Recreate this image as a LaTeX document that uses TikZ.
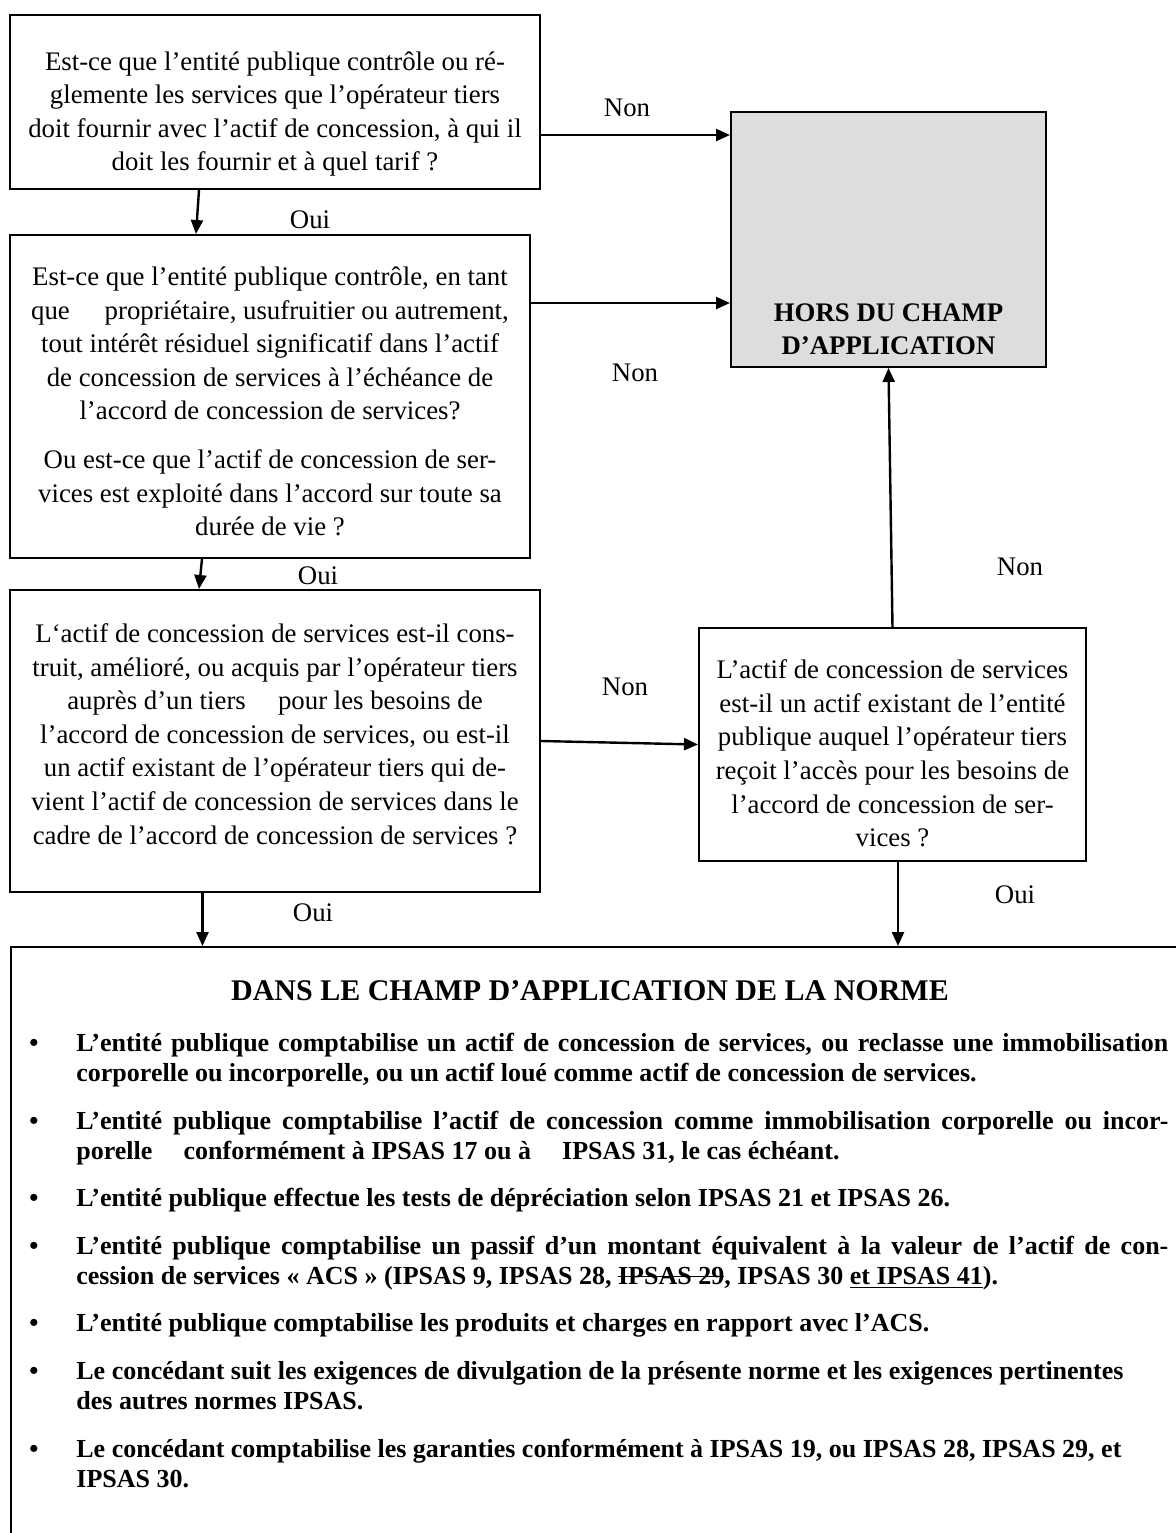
\documentclass[tikz,border=0pt]{standalone}
\usepackage{fontspec}
\setmainfont{Liberation Serif}
\usetikzlibrary{arrows.meta,positioning}
\definecolor{horsgray}{RGB}{221,221,221}
\newcommand\normelabel[1]{#1\hfil}
\newcommand\barre[1]{\setbox0=\hbox{#1}\rlap{\rule[0.28em]{\wd0}{0.7pt}}\box0}
\tikzset{flowpx/.style={x=0.5pt,y=-0.5pt,font=\fontsize{13.4}{16.8}\selectfont}}
\tikzset{qbox/.style={draw,line width=1pt,inner sep=0pt},
         qtext/.style={align=center,inner sep=0pt},
         horsbox/.style={qbox,fill=horsgray},
         flowarrow/.style={line width=1.2pt,-{Triangle[length=7pt,width=6pt]}},
         answer/.style={inner sep=1pt}}

\begin{document}
\begin{tikzpicture}[flowpx]
    \useasboundingbox (0,0) rectangle (1176,1533);
    \clip (0,0) rectangle (1176,1533);
    % question boxes
    \node[qbox,minimum width=265pt,minimum height=87pt] (q1) at (275,102) {};
    \node[qbox,minimum width=260pt,minimum height=161.5pt] (q2) at (270,396.5) {};
    \node[qbox,minimum width=265pt,minimum height=151pt] (q3) at (275,741) {};
    \node[qbox,minimum width=193.5pt,minimum height=116.5pt] (q4) at (892.5,744.5) {};
    % question texts
    \node[qtext] (q1txt) at ([yshift=-6pt]q1.center)
      {Est-ce que l’entité publique contrôle ou ré-\\
       glemente les services que l’opérateur tiers\\
       doit fournir avec l’actif de concession, à qui il\\
       doit les fournir et à quel tarif ?};
    \node[qtext] (q2txt) at ([yshift=-2.5pt]q2.center)
      {Est-ce que l’entité publique contrôle, en tant\\
       que\hspace{1.3em}propriétaire, usufruitier ou autrement,\\
       tout intérêt résiduel significatif dans l’actif\\
       de concession de services à l’échéance de\\
       l’accord de concession de services?\\[7.5pt]
       Ou est-ce que l’actif de concession de ser-\\
       vices est exploité dans l’accord sur toute sa\\
       durée de vie ?};
    \node[qtext] (q3txt) at ([yshift=3.5pt]q3.center)
      {L‘actif de concession de services est-il cons-\\
       truit, amélioré, ou acquis par l’opérateur tiers\\
       auprès d’un tiers\hspace{1.2em}pour les besoins de\\
       l’accord de concession de services, ou est-il\\
       un actif existant de l’opérateur tiers qui de-\\
       vient l’actif de concession de services dans le\\
       cadre de l’accord de concession de services ?};
    \node[qtext] (q4txt) at ([yshift=-4.5pt]q4.center)
      {L’actif de concession de services\\
       est-il un actif existant de l’entité\\
       publique auquel l’opérateur tiers\\
       reçoit l’accès pour les besoins de\\
       l’accord de concession de ser-\\
       vices ?};
    % outcomes
    \node[horsbox,minimum width=157.5pt,minimum height=127.5pt] (hors) at (888.5,239.5) {};
    \node[font=\bfseries\fontsize{13.4}{16.8}\selectfont,align=center,above=3pt of hors.south] (horstxt)
      {HORS DU CHAMP\\D’APPLICATION};
    \node[qbox,anchor=north west,minimum width=600pt,minimum height=320pt] (norme) at (10,946) {};
    \node[font=\bfseries\fontsize{15}{18}\selectfont] (normettl) at (590,991)
      {DANS LE CHAMP D’APPLICATION DE LA NORME};
    \node[anchor=north west,inner sep=0pt,text width=569.5pt,align=justify,
          font=\bfseries\fontsize{13}{15}\selectfont] (normelst) at (29,1021)
      {\hyphenpenalty=10000 \setlength{\linewidth}{\hsize}%
       \begin{list}{\textbullet}{\setlength{\leftmargin}{23.5pt}\setlength{\labelwidth}{23.5pt}%
                       \setlength{\labelsep}{0pt}\setlength{\itemsep}{8.8pt}\setlength{\parsep}{0pt}%
                       \setlength{\topsep}{0pt}\setlength{\partopsep}{0pt}\let\makelabel\normelabel}
       \item L’entité publique comptabilise un actif de concession de services, ou reclasse une immobilisation\linebreak
             corporelle ou incorporelle, ou un actif loué comme actif de concession de services.
       \item L’entité publique comptabilise l’actif de concession comme immobilisation corporelle ou incor-\linebreak
             porelle\hspace{1.2em}conformément à IPSAS 17 ou à\hspace{1.2em}IPSAS 31, le cas échéant.
       \item L’entité publique effectue les tests de dépréciation selon IPSAS 21 et IPSAS 26.
       \item L’entité publique comptabilise un passif d’un montant équivalent à la valeur de l’actif de con-\linebreak
             cession de services « ACS » (IPSAS 9, IPSAS 28, \barre{IPSAS 29}, IPSAS 30 \underline{et IPSAS 41}).
       \item L’entité publique comptabilise les produits et charges en rapport avec l’ACS.
       \item Le concédant suit les exigences de divulgation de la présente norme et les exigences pertinentes\newline
             des autres normes IPSAS.
       \item Le concédant comptabilise les garanties conformément à IPSAS 19, ou IPSAS 28, IPSAS 29, et\newline
             IPSAS 30.
       \end{list}};
    % connectors
    \draw[flowarrow] ([yshift=-16.5pt]q1.east) -- ([yshift=-16.5pt]q1.east -| hors.west);
    \draw[flowarrow] ([yshift=46.75pt]q2.east) -- ([yshift=46.75pt]q2.east -| hors.west);
    \draw[flowarrow] ([xshift=-38pt]q1.south) -- ([xshift=-37pt]q2.north);
    \draw[flowarrow] ([xshift=-34pt]q2.south) -- ([xshift=-38pt]q3.north);
    \draw[flowarrow] (q3.east) -- (q4.west);
    \draw[flowarrow] (q4.north) -- (hors.south);
    \draw[flowarrow] ([xshift=-36.25pt]q3.south) -- ([xshift=-36.25pt]q3.south |- norme.north);
    \draw[flowarrow] ([xshift=2.75pt]q4.south) -- ([xshift=2.75pt]q4.south |- norme.north);
    % answers
    \node[answer] (non1) at (627,108) {Non};
    \node[answer] (oui1) at (310,220) {Oui};
    \node[answer] (non2) at (635,373) {Non};
    \node[answer] (oui2) at (318,576) {Oui};
    \node[answer] (non3) at (1020,567) {Non};
    \node[answer] (non4) at (625,687) {Non};
    \node[answer] (oui3) at (313,913) {Oui};
    \node[answer] (oui4) at (1015,895) {Oui};
\end{tikzpicture}
\end{document}
